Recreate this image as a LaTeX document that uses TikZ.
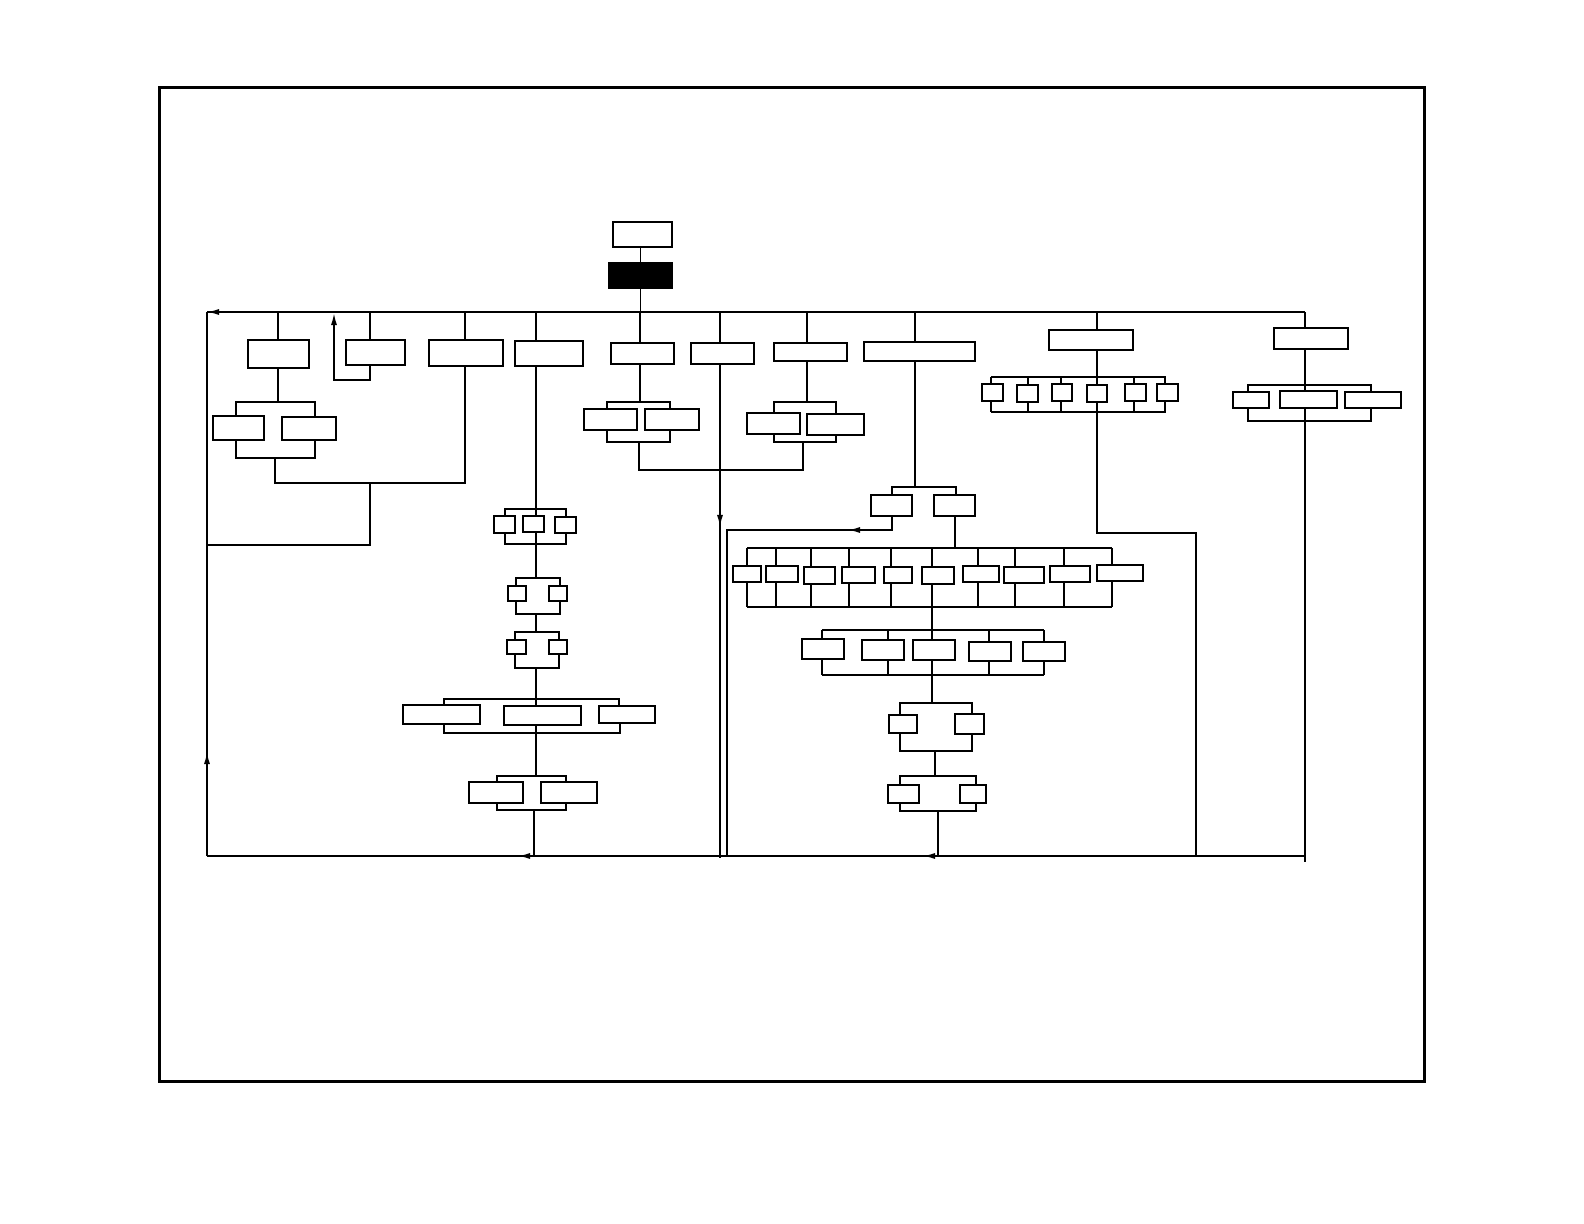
\documentclass[tikz,border=0pt]{standalone}
\usepackage{tikz}
\usetikzlibrary{arrows.meta}
\tikzset{
  ln/.style={line width=0.45pt},
  ar/.style={-{Latex[length=1.2mm,width=0.6mm]},line width=0.45pt},
  box/.style={draw,line width=0.45pt,fill=white,inner sep=0pt,outer sep=0pt},
  bx/.style 2 args={box,minimum width=#1*0.01cm,minimum height=#2*0.01cm}
}
\begin{document}
\begin{tikzpicture}[x=0.01cm,y=-0.01cm,ln]
\useasboundingbox (0,0) rectangle (1584,1224);
\draw[line width=0.85pt] (159.5,87.5) rectangle (1424,1081);

% top of the tree
\node[bx={59}{25}] (tp) at (642.5,234.5) {};
\node[bx={63}{25},fill=black] (blk) at (640.5,275.5) {};
\coordinate (busL) at (207,312);
\coordinate (busR) at (1305,312);
\coordinate (botL) at (207,856);
\coordinate (botR) at (1305,856);
\draw (tp.south -| blk.north) -- (blk.north);
\draw (blk.south) -- (blk.south |- busL);
\draw (busL) -- (busR);
\draw (botL) -- (botR);
\draw (botL) -- (busL);
\draw[ar] (222,312) -- (busL);
\draw[ar] (207,775) -- (207,752);

% first row
\node[bx={61}{28}] (a1) at (278.5,354) {};
\node[bx={59}{25}] (a2) at (375.5,352.5) {};
\node[bx={74}{26}] (a3) at (466,353) {};
\node[bx={68}{25}] (a4) at (549,353.5) {};
\node[bx={63}{21}] (b1) at (642.5,353.5) {};
\node[bx={63}{21}] (b2) at (722.5,353.5) {};
\node[bx={73}{18}] (b3) at (810.5,352) {};
\node[bx={111}{19}] (b4) at (919.5,351.5) {};
\node[bx={84}{20}] (b5) at (1091,340) {};
\node[bx={74}{21}] (b6) at (1311,338.5) {};
\foreach \n/\x in {a1/278,a2/370,a3/465,a4/536,b1/640,b2/720,b3/807,b4/915,b5/1097,b6/1305}
  \draw (\x,312) -- (\x,312 |- \n.north);

% left branch
\node[bx={51}{24}] (a1l) at (238.5,428) {};
\node[bx={54}{23}] (a1r) at (309,428.5) {};
\draw (a1.south -| 278,0) -- (278,402);
\draw (a1l.north -| 236,0) -- (236,402) -- (315,402) -- (a1r.north -| 315,0);
\draw (a1l.south -| 236,0) -- (236,458) -- (315,458) -- (a1r.south -| 315,0);
\draw (275,458) -- (275,483) -- (465,483) -- (a3.south -| 465,0);
\draw (370,483) -- (370,545) -- (207,545);
\draw[ar] (a2.south -| 370,0) -- (370,380) -- (334,380) -- (334,313);

% b1 and b3 pairs
\node[bx={53}{21}] (b1l) at (610.5,419.5) {};
\node[bx={54}{21}] (b1r) at (672,419.5) {};
\draw (b1.south -| 640,0) -- (640,402);
\draw (b1l.north -| 607,0) -- (607,402) -- (670,402) -- (b1r.north -| 670,0);
\draw (b1l.south -| 607,0) -- (607,442) -- (670,442) -- (b1r.south -| 670,0);
\node[bx={53}{21}] (b3l) at (773.5,423.5) {};
\node[bx={57}{21}] (b3r) at (835.5,424.5) {};
\draw (b3.south -| 807,0) -- (807,402);
\draw (b3l.north -| 774,0) -- (774,402) -- (836,402) -- (b3r.north -| 836,0);
\draw (b3l.south -| 774,0) -- (774,442) -- (836,442) -- (b3r.south -| 836,0);
\draw (639,442) -- (639,470) -- (803,470) -- (803,442);

% b2 straight down
\draw (b2.south -| 720,0) -- (720,858);
\draw[ar] (720,505) -- (720,527);

% b5 row of six
\foreach \i/\cx/\cy/\w/\vx in {1/992.5/392.5/21/991,2/1027.5/393.5/21/1028,3/1062/392.5/20/1061,4/1097/393.5/20/1097,5/1135.5/392.5/21/1134,6/1167.5/392.5/21/1165}{
  \node[bx={\w}{17}] (e\i) at (\cx,\cy) {};
  \draw (e\i.north -| \vx,0) -- (\vx,377);
  \draw (e\i.south -| \vx,0) -- (\vx,412);
}
\draw (b5.south -| 1097,0) -- (1097,377);
\draw (991,377) -- (1166,377);
\draw (991,412) -- (1166,412);
\draw (1097,412) -- (1097,533) -- (1196,533) -- (1196,856);

% b6 row of three
\node[bx={36}{16}] (f1) at (1251,400) {};
\node[bx={57}{17}] (f2) at (1308.5,399.5) {};
\node[bx={56}{16}] (f3) at (1373,400) {};
\draw (b6.south -| 1305,0) -- (1305,385);
\draw (f1.north -| 1248,0) -- (1248,385) -- (1371,385) -- (f3.north -| 1371,0);
\draw (1305,385) -- (f2.north -| 1305,0);
\draw (f1.south -| 1248,0) -- (1248,421) -- (1371,421) -- (f3.south -| 1371,0);
\draw (f2.south -| 1305,0) -- (1305,862);

% a4 chain
\node[bx={21}{17}] (g1a) at (504.5,524.5) {};
\node[bx={21}{16}] (g1b) at (533.5,524) {};
\node[bx={21}{16}] (g1c) at (565.5,525) {};
\draw (a4.south -| 536,0) -- (536,509);
\draw (g1a.north -| 505,0) -- (505,509) -- (566,509) -- (g1c.north -| 566,0);
\draw (536,509) -- (g1b.north -| 536,0);
\draw (g1a.south -| 505,0) -- (505,544) -- (566,544) -- (g1c.south -| 566,0);
\draw (g1b.south -| 536,0) -- (536,578);
\node[bx={18}{15}] (g2a) at (517,593.5) {};
\node[bx={18}{15}] (g2b) at (558,593.5) {};
\draw (g2a.north -| 516,0) -- (516,578) -- (560,578) -- (g2b.north -| 560,0);
\draw (g2a.south -| 516,0) -- (516,614) -- (560,614) -- (g2b.south -| 560,0);
\draw (536,614) -- (536,632);
\node[bx={19}{14}] (g3a) at (516.5,647) {};
\node[bx={18}{14}] (g3b) at (558,647) {};
\draw (g3a.north -| 515,0) -- (515,632) -- (559,632) -- (g3b.north -| 559,0);
\draw (g3a.south -| 515,0) -- (515,668) -- (559,668) -- (g3b.south -| 559,0);
\draw (536,668) -- (536,699);
\node[bx={77}{19}] (g4a) at (441.5,714.5) {};
\node[bx={77}{19}] (g4b) at (542.5,715.5) {};
\node[bx={56}{17}] (g4c) at (627,714.5) {};
\draw (g4a.north -| 444,0) -- (444,699) -- (619,699) -- (g4c.north -| 619,0);
\draw (536,699) -- (g4b.north -| 536,0);
\draw (g4a.south -| 444,0) -- (444,733) -- (620,733) -- (g4c.south -| 620,0);
\draw (g4b.south -| 536,0) -- (536,776);
\node[bx={54}{21}] (g5a) at (496,792.5) {};
\node[bx={56}{21}] (g5b) at (569,792.5) {};
\draw (g5a.north -| 497,0) -- (497,776) -- (566,776) -- (g5b.north -| 566,0);
\draw (g5a.south -| 497,0) -- (497,810) -- (566,810) -- (g5b.south -| 566,0);
\draw (534,810) -- (534,856);
\draw[ar] (534,856) -- (518,856);

% b4 chain
\node[bx={41}{21}] (c1) at (891.5,505.5) {};
\node[bx={41}{21}] (c2) at (954.5,505.5) {};
\draw (b4.south -| 915,0) -- (915,487);
\draw (c1.north -| 892,0) -- (892,487) -- (956,487) -- (c2.north -| 956,0);
\draw (c1.south -| 892,0) -- (892,530) -- (727,530) -- (727,856);
\draw[ar] (870,530) -- (848,530);
\draw (c2.south -| 955,0) -- (955,548);
\foreach \i/\cx/\cy/\w/\h/\vx in {1/747/574/28/16/747,2/782/574/32/16/776,3/819.5/575.5/31/17/811,4/858.5/575/33/16/849,5/898/575/28/16/891,6/938/575.5/32/17/932,7/981/574/36/16/978,8/1024/575/40/16/1015,9/1070/574/40/16/1064,10/1120/573/46/16/1112}{
  \node[bx={\w}{\h}] (t\i) at (\cx,\cy) {};
  \draw (t\i.north -| \vx,0) -- (\vx,548);
  \draw (t\i.south -| \vx,0) -- (\vx,607);
}
\draw (747,548) -- (1112,548);
\draw (747,607) -- (1112,607);
\draw (932,607) -- (932,630);
\foreach \i/\cx/\cy/\h/\vx in {1/823/649/20/822,2/883/650/20/888,3/934/650/20/932,4/990/651.5/19/989,5/1044/651.5/19/1044}{
  \node[bx={42}{\h}] (h\i) at (\cx,\cy) {};
  \draw (h\i.north -| \vx,0) -- (\vx,630);
  \draw (h\i.south -| \vx,0) -- (\vx,675);
}
\draw (822,630) -- (1044,630);
\draw (822,675) -- (1044,675);
\draw (932,675) -- (932,703);
\node[bx={28}{18}] (k1) at (903,724) {};
\node[bx={29}{20}] (k2) at (969.5,724) {};
\draw (k1.north -| 900,0) -- (900,703) -- (972,703) -- (k2.north -| 972,0);
\draw (k1.south -| 900,0) -- (900,751) -- (972,751) -- (k2.south -| 972,0);
\draw (935,751) -- (935,776);
\node[bx={31}{18}] (m1) at (903.5,794) {};
\node[bx={26}{18}] (m2) at (973,794) {};
\draw (m1.north -| 900,0) -- (900,776) -- (976,776) -- (m2.north -| 976,0);
\draw (m1.south -| 900,0) -- (900,811) -- (976,811) -- (m2.south -| 976,0);
\draw (938,811) -- (938,856);
\draw[ar] (938,856) -- (923,856);
\end{tikzpicture}
\end{document}
